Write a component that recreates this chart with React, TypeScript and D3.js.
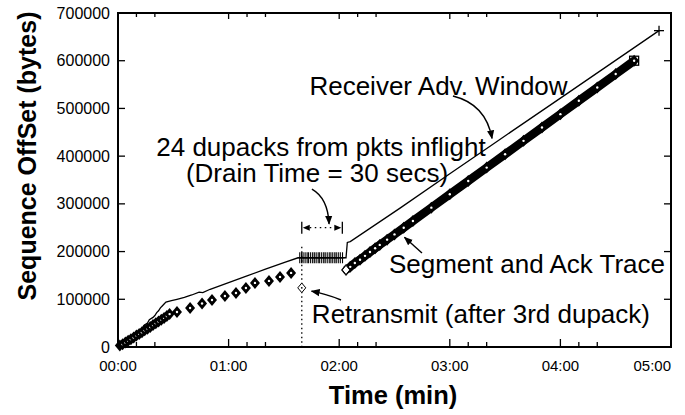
import React from 'react';
import * as d3 from 'd3';

// ---- Data (time in seconds, offsets in bytes) ----
const windowTimes = [0, 2, 4, 5, 7, 8, 10, 11, 13, 14, 16, 17, 19, 20, 21, 22, 23, 24, 25, 26, 29, 32, 36, 40, 44, 46, 50, 60, 70, 80, 90, 97.7, 123.7, 124.4, 126, 153, 180, 203, 243.6, 293.5];
const windowValues = [0, 5000, 9000, 13000, 17000, 23000, 27000, 33000, 38000, 45000, 50000, 57000, 62000, 66000, 72000, 76000, 82000, 86000, 90000, 94000, 97000, 100000, 104000, 109000, 115000, 114000, 121000, 135000, 149000, 163000, 177000, 187000, 187000, 219000, 221000, 291000, 363000, 424000, 531000, 663000];

const earlyTimes = [1, 2.5, 4, 5.5, 7, 8.5, 10, 11.5, 13, 14.5, 16, 17.5, 19, 20.5, 22, 23.5, 25, 26.5, 28];
const earlyValues = [3000, 6000, 9500, 13000, 16500, 20000, 24000, 27500, 31000, 35000, 38500, 42000, 46000, 50000, 53500, 57000, 61000, 65000, 69000];

const sparseTimes = [32, 39.1, 45.6, 51, 58, 64, 69.4, 74.3, 81.9, 87.9, 93.9];
const sparseValues = [73400, 81800, 91300, 98600, 107000, 113300, 123800, 134300, 138500, 146900, 155300];

const retransmitTime = 99.7;
const retransmitValue = 124000;

const dupackTimes = [98.6, 99.6, 100.4, 101.5, 102.6, 103.4, 104.5, 105.6, 106.5, 107.5, 108.6, 109.4, 110.5, 111.6, 112.4, 113.5, 114.6, 115.5, 116.5, 117.6, 118.4, 119.5, 120.6, 121.8];
const dupackValue = 187000;

const bandTimes = [123.7, 126, 128.5, 131.3, 134, 136.7, 139.5, 142, 146, 150, 155, 160, 170, 180, 190, 200, 210, 220, 230, 240, 250, 260, 270, 280];
const bandValues = [161500, 168000, 176000, 183000, 191000, 199000, 207000, 214000, 225000, 236000, 250000, 264000, 292000, 320000, 348000, 376000, 404000, 432000, 460000, 488000, 516000, 544000, 572000, 600000];

const yTicks = [0, 100000, 200000, 300000, 400000, 500000, 600000, 700000];
const xMajorTicks = [0, 60, 120, 180, 240, 300];
const xTickLabels = ['00:00', '01:00', '02:00', '03:00', '04:00', '05:00'];
const xMinorTicks = [10, 20, 70, 80, 130, 140, 190, 200, 250, 260];

const drainStart = 99.7;
const drainEnd = 121.7;
const drainLevel = 250000;

const FONT = "'Liberation Sans', Arial, Helvetica, sans-serif";

export default function App() {
  const x = d3.scaleLinear().domain([0, 300]).range([118, 671]);
  const y = d3.scaleLinear().domain([0, 700000]).range([347, 13]);
  const [x0, x1] = x.range();
  const [y0, y1] = y.range();

  const line = d3.line<[number, number]>().x(d => x(d[0])).y(d => y(d[1]));
  const windowPts: [number, number][] = windowTimes.map((t, i) => [t, windowValues[i]]);
  const bandPts: [number, number][] = bandTimes.map((t, i) => [t, bandValues[i]]);

  const diamond = (cx: number, cy: number, w = 5, h = 6) =>
    `M${cx},${cy - h}L${cx + w},${cy}L${cx},${cy + h}L${cx - w},${cy}Z`;

  const solidDiamond = (t: number, v: number, k: string) => (
    <g key={k}>
      <path d={diamond(x(t), y(v))} fill="#000" />
      <circle cx={x(t)} cy={y(v)} r={1.2} fill="#fff" />
    </g>
  );

  const P = (t: number, v: number) => `${x(t)},${y(v)}`;

  return (
    <svg width={685} height={415} style={{ position: 'absolute', left: 0, top: 0, background: '#fff' }}
      fontFamily={FONT}>
      <defs>
        <marker id="ah" viewBox="0 0 10 10" refX="9" refY="5" markerWidth="9" markerHeight="9"
          markerUnits="userSpaceOnUse" orient="auto">
          <path d="M0,1 L10,5 L0,9 Z" fill="#000" />
        </marker>
      </defs>
      <rect x={0} y={0} width={685} height={415} fill="#fff" />

      {/* Receiver advertised window line */}
      <path d={line(windowPts) || ''} fill="none" stroke="#000" strokeWidth={1.3} />
      <g stroke="#000" strokeWidth={1.3}>
        <line x1={x(293.5) - 5} x2={x(293.5) + 5} y1={y(663000)} y2={y(663000)} />
        <line x1={x(293.5)} x2={x(293.5)} y1={y(663000) - 5} y2={y(663000) + 5} />
      </g>

      {/* dupacks plotted as + markers */}
      <g stroke="#000" strokeWidth={1.1}>
        {dupackTimes.map((t, i) => (
          <g key={'dp' + i}>
            <line x1={x(t)} x2={x(t)} y1={y(dupackValue) - 5.5} y2={y(dupackValue) + 5.5} />
            <line x1={x(t) - 2} x2={x(t) + 2} y1={y(dupackValue)} y2={y(dupackValue)} />
          </g>
        ))}
      </g>

      {/* early segment trace */}
      {earlyTimes.map((t, i) => solidDiamond(t, earlyValues[i], 'e' + i))}
      {sparseTimes.map((t, i) => solidDiamond(t, sparseValues[i], 's' + i))}

      {/* recovery band */}
      <path d={line(bandPts) || ''} fill="none" stroke="#000" strokeWidth={8.5} strokeLinejoin="round" />
      {bandTimes.map((t, i) => solidDiamond(t, bandValues[i], 'b' + i))}
      <path d={diamond(x(123.7), y(161500), 3.8, 4.6)} fill="#fff" stroke="#000" strokeWidth={1} />
      <rect x={x(280) - 4.5} y={y(600000) - 4.5} width={9} height={9} fill="none" stroke="#000" strokeWidth={1.3} />

      {/* retransmit */}
      <line x1={x(retransmitTime)} x2={x(retransmitTime)} y1={y(210000)} y2={y(0)} stroke="#000"
        strokeWidth={1.3} strokeDasharray="1.5,3" />
      <path d={diamond(x(retransmitTime), y(retransmitValue), 4, 4.8)} fill="#fff" stroke="#000" strokeWidth={1} />
      <circle cx={x(retransmitTime)} cy={y(retransmitValue)} r={0.9} fill="#000" />

      {/* drain interval marker */}
      <g stroke="#000" strokeWidth={1.3}>
        <line x1={x(drainStart)} x2={x(drainStart)} y1={y(drainLevel) - 6} y2={y(drainLevel) + 6} />
        <line x1={x(drainEnd)} x2={x(drainEnd)} y1={y(drainLevel) - 6} y2={y(drainLevel) + 6} />
        <line x1={x(drainStart) + 8} x2={x(drainEnd) - 8} y1={y(drainLevel)} y2={y(drainLevel)} strokeDasharray="1.5,3.5" />
      </g>
      <path d={`M${x(drainStart) + 1},${y(drainLevel)} L${x(drainStart) + 8},${y(drainLevel) - 3} L${x(drainStart) + 8},${y(drainLevel) + 3}Z`} fill="#000" />
      <path d={`M${x(drainEnd) - 1},${y(drainLevel)} L${x(drainEnd) - 8},${y(drainLevel) - 3} L${x(drainEnd) - 8},${y(drainLevel) + 3}Z`} fill="#000" />

      {/* annotation arrows */}
      <g fill="none" stroke="#000" strokeWidth={1.4} markerEnd="url(#ah)">
        <path d={`M${P(181.7, 526000)} Q${P(199.6, 509000)} ${P(202.9, 437000)}`} />
        <path d={`M${P(105.2, 331000)} Q${P(113.9, 312000)} ${P(114.5, 258000)}`} />
        <path d={`M${P(164.9, 197000)} L${P(155.4, 230000)}`} />
        <path d={`M${P(121, 98500)} Q${P(112.3, 112000)} ${P(105.0, 117000)}`} />
      </g>

      {/* frame */}
      <rect x={x0} y={y1} width={x1 - x0} height={y0 - y1} fill="none" stroke="#000" strokeWidth={2} />

      {/* ticks */}
      <g stroke="#000" strokeWidth={1.3}>
        {yTicks.map(v => (
          <g key={'yt' + v}>
            <line x1={x0} x2={x0 + 7} y1={y(v)} y2={y(v)} />
            <line x1={x1} x2={x1 - 7} y1={y(v)} y2={y(v)} />
          </g>
        ))}
        {xMajorTicks.map(t => (
          <g key={'xt' + t}>
            <line x1={x(t)} x2={x(t)} y1={y0} y2={y0 - 8} />
            <line x1={x(t)} x2={x(t)} y1={y1} y2={y1 + 6} />
          </g>
        ))}
        {xMinorTicks.map(t => (
          <g key={'xm' + t}>
            <line x1={x(t)} x2={x(t)} y1={y0} y2={y0 - 5} />
            <line x1={x(t)} x2={x(t)} y1={y1} y2={y1 + 4} />
          </g>
        ))}
      </g>

      {/* tick labels */}
      <g fontSize={16} fill="#000">
        {yTicks.map(v => (
          <text key={'yl' + v} x={x0 - 8} y={y(v)} dy="0.35em" textAnchor="end">{v}</text>
        ))}
      </g>
      <g fontSize={15} fill="#000">
        {xMajorTicks.map((t, i) => (
          <text key={'xl' + t} x={x(t)} y={371}
            textAnchor={i === xMajorTicks.length - 1 ? 'end' : 'middle'}>{xTickLabels[i]}</text>
        ))}
      </g>

      {/* axis titles */}
      <text x={393} y={404} fontSize={25.5} fontWeight="bold" textAnchor="middle">Time (min)</text>
      <text transform="translate(36,156) rotate(-90)" fontSize={25} fontWeight="bold" textAnchor="middle">Sequence OffSet (bytes)</text>

      {/* annotations */}
      <g fontSize={26} fill="#000">
        <text x={438.5} y={95} textAnchor="middle">Receiver Adv. Window</text>
        <text x={321} y={156} textAnchor="middle">24 dupacks from pkts inflight</text>
        <text x={317} y={182} textAnchor="middle">(Drain Time = 30 secs)</text>
        <text x={665} y={273} textAnchor="end">Segment and Ack Trace</text>
        <text x={650} y={323} textAnchor="end">Retransmit (after 3rd dupack)</text>
      </g>
    </svg>
  );
}
